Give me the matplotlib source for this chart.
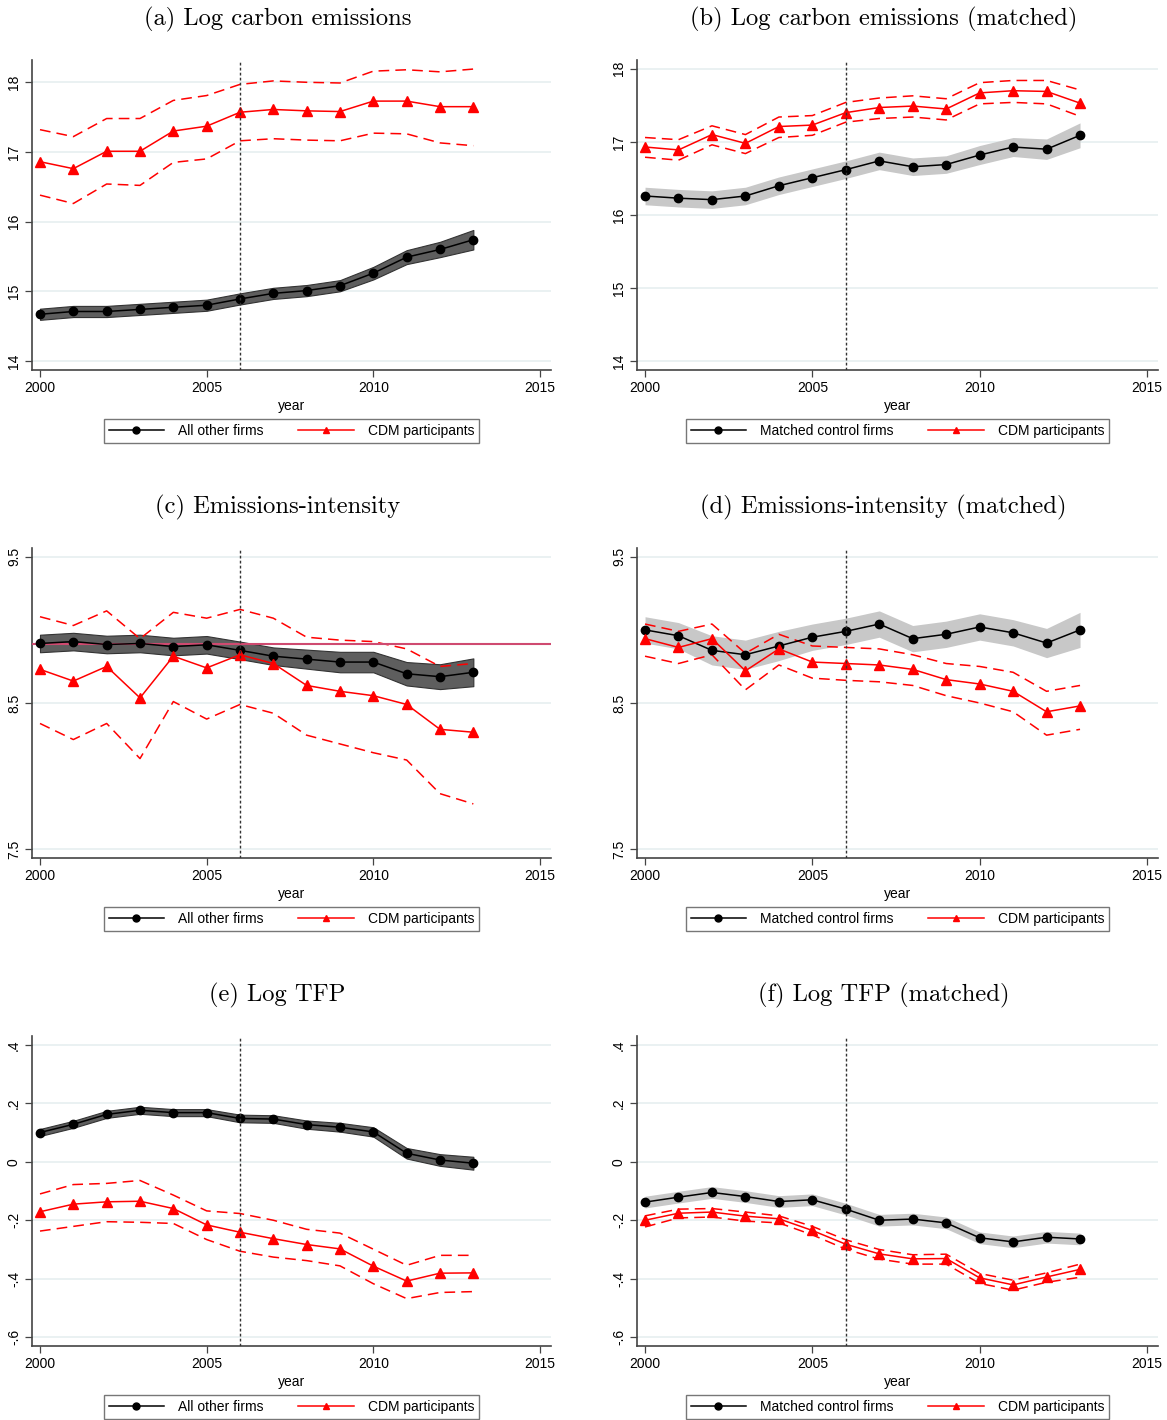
import numpy as np
import matplotlib
matplotlib.use("Agg")
import matplotlib.pyplot as plt

plt.rcParams['font.family'] = ['Liberation Sans', 'DejaVu Sans']

years = list(range(2000, 2014))

# (a) Log carbon emissions
a_ctrl = [14.67, 14.71, 14.71, 14.74, 14.77, 14.80, 14.89, 14.97, 15.01, 15.08, 15.26, 15.49, 15.60, 15.74]
a_ctrl_se = [0.08, 0.08, 0.08, 0.08, 0.08, 0.08, 0.08, 0.08, 0.08, 0.08, 0.09, 0.10, 0.11, 0.14]
a_cdm = [16.86, 16.76, 17.01, 17.01, 17.30, 17.37, 17.57, 17.61, 17.59, 17.58, 17.73, 17.73, 17.65, 17.65]
a_cdm_hi = [17.32, 17.22, 17.48, 17.48, 17.74, 17.81, 17.97, 18.02, 18.00, 17.99, 18.16, 18.18, 18.15, 18.19]
a_cdm_lo = [16.38, 16.26, 16.54, 16.52, 16.85, 16.90, 17.16, 17.19, 17.17, 17.16, 17.27, 17.26, 17.13, 17.09]

# (b) Log carbon emissions (matched)
b_ctrl = [16.26, 16.23, 16.21, 16.26, 16.40, 16.51, 16.62, 16.74, 16.66, 16.69, 16.82, 16.93, 16.90, 17.09]
b_ctrl_se = [0.12, 0.12, 0.12, 0.12, 0.12, 0.12, 0.12, 0.12, 0.12, 0.12, 0.13, 0.13, 0.14, 0.17]
b_cdm = [16.93, 16.89, 17.10, 16.98, 17.21, 17.23, 17.40, 17.47, 17.49, 17.45, 17.67, 17.70, 17.69, 17.53]
b_cdm_hi = [17.06, 17.03, 17.22, 17.10, 17.34, 17.36, 17.54, 17.60, 17.63, 17.59, 17.81, 17.84, 17.84, 17.71]
b_cdm_lo = [16.79, 16.75, 16.96, 16.84, 17.06, 17.09, 17.27, 17.32, 17.34, 17.30, 17.52, 17.54, 17.52, 17.35]

# (c) Emissions-intensity
c_ctrl = [8.907, 8.92, 8.90, 8.907, 8.886, 8.898, 8.86, 8.82, 8.80, 8.78, 8.78, 8.70, 8.68, 8.71]
c_ctrl_se = [0.06, 0.06, 0.06, 0.06, 0.06, 0.06, 0.06, 0.06, 0.065, 0.07, 0.07, 0.08, 0.085, 0.095]
c_cdm = [8.73, 8.65, 8.75, 8.535, 8.82, 8.74, 8.83, 8.77, 8.62, 8.58, 8.55, 8.49, 8.32, 8.30]
c_cdm_hi = [9.09, 9.03, 9.13, 8.94, 9.12, 9.08, 9.14, 9.08, 8.95, 8.93, 8.92, 8.87, 8.75, 8.77]
c_cdm_lo = [8.36, 8.25, 8.36, 8.12, 8.51, 8.39, 8.49, 8.43, 8.28, 8.22, 8.16, 8.11, 7.88, 7.81]
c_ref = 8.905

# (d) Emissions-intensity (matched)
d_ctrl = [9.00, 8.96, 8.86, 8.83, 8.89, 8.95, 8.99, 9.04, 8.94, 8.97, 9.02, 8.98, 8.91, 9.00]
d_ctrl_se = [0.09, 0.09, 0.10, 0.10, 0.10, 0.09, 0.09, 0.09, 0.09, 0.09, 0.09, 0.09, 0.10, 0.12]
d_cdm = [8.94, 8.88, 8.94, 8.72, 8.87, 8.78, 8.77, 8.76, 8.73, 8.66, 8.63, 8.58, 8.44, 8.48]
d_cdm_hi = [9.04, 8.99, 9.04, 8.84, 8.97, 8.89, 8.88, 8.87, 8.83, 8.77, 8.75, 8.71, 8.58, 8.62]
d_cdm_lo = [8.82, 8.77, 8.83, 8.59, 8.76, 8.67, 8.655, 8.645, 8.62, 8.55, 8.50, 8.44, 8.28, 8.32]

# (e) Log TFP
e_ctrl = [0.100, 0.128, 0.162, 0.176, 0.168, 0.168, 0.148, 0.146, 0.127, 0.118, 0.102, 0.029, 0.006, -0.005]
e_ctrl_se = [0.012, 0.012, 0.012, 0.012, 0.012, 0.012, 0.013, 0.013, 0.014, 0.015, 0.016, 0.018, 0.02, 0.022]
e_cdm = [-0.171, -0.145, -0.137, -0.135, -0.160, -0.216, -0.241, -0.263, -0.283, -0.298, -0.357, -0.408, -0.381, -0.380]
e_cdm_hi = [-0.110, -0.078, -0.074, -0.064, -0.114, -0.168, -0.177, -0.200, -0.231, -0.244, -0.299, -0.354, -0.320, -0.320]
e_cdm_lo = [-0.237, -0.221, -0.205, -0.207, -0.211, -0.266, -0.306, -0.326, -0.338, -0.356, -0.417, -0.468, -0.447, -0.444]

# (f) Log TFP (matched)
f_ctrl = [-0.138, -0.121, -0.105, -0.119, -0.136, -0.130, -0.162, -0.200, -0.196, -0.209, -0.260, -0.274, -0.258, -0.264]
f_ctrl_se = [0.02] * 14
f_cdm = [-0.200, -0.176, -0.172, -0.186, -0.195, -0.235, -0.282, -0.315, -0.332, -0.331, -0.397, -0.421, -0.394, -0.368]
f_cdm_hi = [-0.185, -0.162, -0.160, -0.172, -0.185, -0.221, -0.267, -0.300, -0.318, -0.316, -0.382, -0.405, -0.380, -0.350]
f_cdm_lo = [-0.223, -0.192, -0.189, -0.203, -0.209, -0.250, -0.299, -0.333, -0.350, -0.350, -0.416, -0.439, -0.412, -0.395]

titles = ["(a) Log carbon emissions", "(b) Log carbon emissions (matched)",
          "(c) Emissions-intensity", "(d) Emissions-intensity (matched)",
          "(e) Log TFP", "(f) Log TFP (matched)"]
xticks = [2000, 2005, 2010, 2015]
yt_emis = [14, 15, 16, 17, 18]
yt_int = [7.5, 8.5, 9.5]
yt_tfp = [0.4, 0.2, 0, -0.2, -0.4, -0.6]
yl_tfp = [".4", ".2", "0", "-.2", "-.4", "-.6"]

panels = [
    (a_ctrl, a_ctrl_se, a_cdm, a_cdm_hi, a_cdm_lo, (13.87, 18.32), yt_emis, [str(v) for v in yt_emis], "All other firms", False),
    (b_ctrl, b_ctrl_se, b_cdm, b_cdm_hi, b_cdm_lo, (13.88, 18.12), yt_emis, [str(v) for v in yt_emis], "Matched control firms", True),
    (c_ctrl, c_ctrl_se, c_cdm, c_cdm_hi, c_cdm_lo, (7.44, 9.56), yt_int, [str(v) for v in yt_int], "All other firms", False),
    (d_ctrl, d_ctrl_se, d_cdm, d_cdm_hi, d_cdm_lo, (7.44, 9.56), yt_int, [str(v) for v in yt_int], "Matched control firms", True),
    (e_ctrl, e_ctrl_se, e_cdm, e_cdm_hi, e_cdm_lo, (-0.63, 0.43), yt_tfp, yl_tfp, "All other firms", False),
    (f_ctrl, f_ctrl_se, f_cdm, f_cdm_hi, f_cdm_lo, (-0.63, 0.43), yt_tfp, yl_tfp, "Matched control firms", True),
]

W, H = 1167, 1420
fig = plt.figure(figsize=(W / 100, H / 100), dpi=100)

lefts = [32, 637]
rights = [551, 1158]
bottoms = [370, 858, 1346]
titles_y = [18, 506, 994]

for i, p in enumerate(panels):
    ctrl, se, cdm, hi, lo, ylim, yt, ytl, ctrl_name, matched = p
    col, row = i % 2, i // 2
    l, r = lefts[col], rights[col]
    b = bottoms[row]
    ax = fig.add_axes([l / W, 1 - b / H, (r - l) / W, 310 / H])

    ctrl = np.array(ctrl)
    se = np.array(se)
    # confidence band around the control group
    if matched:
        ax.fill_between(years, ctrl - se, ctrl + se, color="#c8c8c8", lw=0, zorder=2)
    else:
        ax.fill_between(years, ctrl - se, ctrl + se, facecolor="#5e5e5e",
                        edgecolor="#333333", lw=0.8, zorder=2)
    ax.plot(years, ctrl, color="black", lw=1.1, marker="o", ms=6, zorder=4, label=ctrl_name)
    ax.plot(years, cdm, color="#ff0000", lw=1.1, marker="^", ms=6.5, zorder=5, label="CDM participants")
    ax.plot(years, hi, color="#ff0000", lw=1.1, ls=(0, (7, 4)), zorder=3)
    ax.plot(years, lo, color="#ff0000", lw=1.1, ls=(0, (7, 4)), zorder=3)
    if i == 2:
        ax.axhline(c_ref, color="#cf4a70", lw=1.5, zorder=3)
    ax.axvline(2006, color="#333333", lw=1.0, ls=(0, (2, 1.6)), zorder=6)

    ax.set_xlim(1999.76, 2015.33)
    ax.set_ylim(*ylim)
    ax.set_xticks(xticks)
    ax.set_yticks(yt)
    ax.set_yticklabels(ytl, rotation=90, va="center")
    ax.tick_params(labelsize=10, length=5, width=0.9, color="#444444", direction="out", pad=3)
    ax.grid(axis="y", color="#e6eff0", lw=1.2, zorder=0)
    ax.set_axisbelow(True)
    for s in ["top", "right"]:
        ax.spines[s].set_visible(False)
    for s in ["left", "bottom"]:
        ax.spines[s].set_color("#444444")
        ax.spines[s].set_linewidth(1.2)
    ax.set_xlabel("year", fontsize=10, labelpad=3)

    leg = ax.legend(loc="center", bbox_to_anchor=(0.5, -61 / 310), ncol=2, fontsize=10,
                    frameon=True, fancybox=False, edgecolor="#555555", handlelength=4,
                    columnspacing=2.5, borderpad=0.35, handletextpad=1.0)
    leg.get_frame().set_linewidth(1.0)
    for h in leg.legend_handles:
        h.set_markersize(5)

    fig.text(((l + r) / 2 - 14) / W, 1 - (titles_y[row] + 1) / H, titles[i],
             ha="center", va="center", fontsize=17.7, fontfamily="cmr10")

fig.savefig("out.png", dpi=100)
